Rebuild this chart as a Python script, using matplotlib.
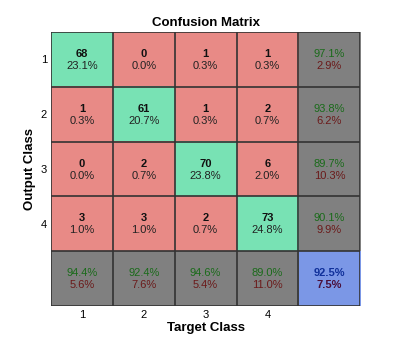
import numpy as np
import matplotlib.pyplot as plt
from matplotlib.colors import ListedColormap

plt.rcParams['font.family'] = ['Liberation Sans', 'DejaVu Sans']

# confusion counts, rows = output class, cols = target class
counts = np.array([[68, 0, 1, 1],
                   [1, 61, 1, 2],
                   [0, 2, 70, 6],
                   [3, 3, 2, 73]])
class_labels = ['1', '2', '3', '4']

n = counts.shape[0]
total = counts.sum()

# cell kind: 0 wrong, 1 correct, 2 summary, 3 overall
kind = np.zeros((n + 1, n + 1))
for i in range(n):
    kind[i, i] = 1
kind[n, :] = 2
kind[:, n] = 2
kind[n, n] = 3
cmap = ListedColormap(['#e88a86', '#78e2b4', '#808080', '#7b97e6'])

fig = plt.figure(figsize=(3.97, 3.51), dpi=100)
ax = fig.add_axes([0.1285, 0.128, 0.779, 0.781])
ax.imshow(kind, cmap=cmap, vmin=-0.5, vmax=3.5, aspect='auto')

up, dn = -0.1, 0.12
fs = 8
for i in range(n):
    for j in range(n):
        ax.text(j, i + up, str(counts[i, j]), ha='center', va='center',
                fontsize=fs, fontweight='bold', color='#111111')
        ax.text(j, i + dn, '%.1f%%' % (100 * counts[i, j] / total),
                ha='center', va='center', fontsize=fs, color='#222222')

green = '#1a6b1a'
red = '#6b1a1a'
for i in range(n):
    acc = 100 * counts[i, i] / counts[i, :].sum()
    ax.text(n, i + up, '%.1f%%' % acc, ha='center', va='center', fontsize=fs, color=green)
    ax.text(n, i + dn, '%.1f%%' % (100 - acc), ha='center', va='center', fontsize=fs, color=red)
for j in range(n):
    acc = 100 * counts[j, j] / counts[:, j].sum()
    ax.text(j, n + up, '%.1f%%' % acc, ha='center', va='center', fontsize=fs, color=green)
    ax.text(j, n + dn, '%.1f%%' % (100 - acc), ha='center', va='center', fontsize=fs, color=red)
acc = 100 * np.trace(counts) / total
ax.text(n, n + up, '%.1f%%' % acc, ha='center', va='center', fontsize=fs,
        fontweight='bold', color='#10309a')
ax.text(n, n + dn, '%.1f%%' % (100 - acc), ha='center', va='center', fontsize=fs,
        fontweight='bold', color='#4a0f3a')

# grid lines
for k in range(n + 2):
    ax.axhline(k - 0.5, color='#333333', lw=1.2)
    ax.axvline(k - 0.5, color='#333333', lw=1.2)

ax.set_xticks(range(n))
ax.set_xticklabels(class_labels)
ax.set_yticks(range(n))
ax.set_yticklabels(class_labels)
ax.tick_params(length=0, labelsize=8, pad=3)
for s in ax.spines.values():
    s.set_visible(False)

ax.set_title('Confusion Matrix', fontsize=9.5, fontweight='bold', pad=4)
ax.set_xlabel('Target Class', fontsize=9.5, fontweight='bold', labelpad=1)
ax.set_ylabel('Output Class', fontsize=9.5, fontweight='bold', labelpad=3)

fig.savefig('out.png', dpi=100, facecolor='white')
